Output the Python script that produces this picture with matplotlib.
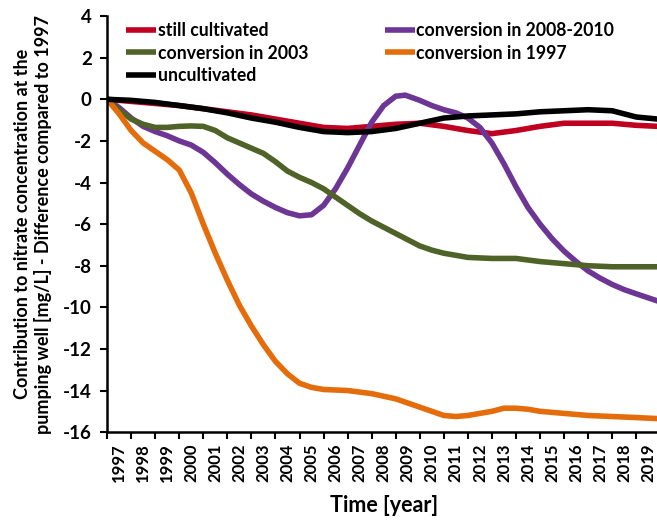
import matplotlib
matplotlib.use("Agg")
import matplotlib.pyplot as plt
import numpy as np

plt.rcParams['font.family'] = ['Lato', 'DejaVu Sans']
plt.rcParams['font.weight'] = 'bold'
plt.rcParams['axes.unicode_minus'] = False

# decimal years
x_main = [1997, 1998, 1999, 2000, 2001, 2002, 2003, 2004, 2005, 2006, 2007, 2008,
          2009, 2010, 2011, 2012, 2013, 2014, 2015, 2016, 2017, 2018, 2019, 2019.9]
still_cultivated = [0, -0.1, -0.2, -0.3, -0.45, -0.6, -0.75, -0.95, -1.15, -1.35, -1.4, -1.3,
                    -1.2, -1.15, -1.3, -1.5, -1.65, -1.5, -1.3, -1.15, -1.15, -1.15, -1.25, -1.3]
uncultivated = [0, -0.05, -0.15, -0.3, -0.45, -0.65, -0.9, -1.1, -1.35, -1.55, -1.6, -1.55,
                -1.4, -1.15, -0.9, -0.8, -0.75, -0.7, -0.6, -0.55, -0.5, -0.55, -0.85, -0.95]

x_2003 = [1997, 1997.5, 1998, 1998.5, 1999, 1999.5, 2000, 2000.5, 2001, 2001.5, 2002, 2002.5,
          2003, 2003.5, 2004, 2004.5, 2005, 2005.5, 2006, 2006.5, 2007, 2007.5, 2008, 2008.5,
          2009, 2009.5, 2010, 2010.5, 2011, 2011.5, 2012, 2013, 2014, 2015, 2016, 2017, 2018,
          2019, 2019.9]
conv_2003 = [0, -0.5, -0.95, -1.2, -1.35, -1.35, -1.3, -1.28, -1.3, -1.5, -1.85, -2.1,
             -2.35, -2.6, -3.0, -3.45, -3.75, -4.0, -4.3, -4.7, -5.1, -5.5, -5.85, -6.15,
             -6.45, -6.75, -7.05, -7.25, -7.4, -7.5, -7.6, -7.65, -7.65, -7.8, -7.9, -8.0, -8.05,
             -8.05, -8.05]

x_2008 = [1997, 1997.5, 1998, 1998.5, 1999, 1999.5, 2000, 2000.5, 2001, 2001.5, 2002, 2002.5,
          2003, 2003.5, 2004, 2004.5, 2005, 2005.5, 2006, 2006.5, 2007, 2007.5, 2008, 2008.5,
          2009, 2009.4, 2010, 2010.5, 2011, 2011.5, 2012, 2012.5, 2013, 2013.5, 2014, 2014.5,
          2015, 2015.5, 2016, 2016.5, 2017, 2017.5, 2018, 2018.5, 2019, 2019.9]
conv_2008 = [0, -0.4, -0.9, -1.3, -1.55, -1.75, -2.0, -2.2, -2.55, -3.05, -3.6, -4.1,
             -4.55, -4.9, -5.2, -5.45, -5.6, -5.55, -5.1, -4.3, -3.3, -2.2, -1.1, -0.3,
             0.15, 0.2, -0.05, -0.3, -0.5, -0.65, -0.9, -1.35, -2.1, -3.1, -4.2, -5.2,
             -6.0, -6.7, -7.3, -7.8, -8.25, -8.6, -8.9, -9.15, -9.35, -9.7]

x_1997 = [1997, 1997.5, 1998, 1998.5, 1999, 1999.5, 2000, 2000.5, 2001, 2001.5, 2002, 2002.5,
          2003, 2003.5, 2004, 2004.5, 2005, 2005.5, 2006, 2007, 2008, 2009, 2010, 2010.5,
          2011, 2011.5, 2012, 2013, 2013.5, 2014, 2014.5, 2015, 2016, 2017, 2018, 2019, 2019.9]
conv_1997 = [0, -0.7, -1.5, -2.1, -2.5, -2.9, -3.4, -4.5, -6.0, -7.4, -8.7, -9.9,
             -10.9, -11.8, -12.6, -13.2, -13.65, -13.85, -13.95, -14.0, -14.15, -14.4, -14.8, -15.0,
             -15.2, -15.25, -15.2, -15.0, -14.85, -14.85, -14.9, -15.0, -15.1, -15.2, -15.25, -15.3, -15.35]

year_labels = [str(y) for y in range(1997, 2020)]

fig = plt.figure(figsize=(6.57, 5.2), dpi=100)
ax = fig.add_axes([0.163, 0.169, 0.842, 0.800])

lw = 4.0
l_red, = ax.plot(x_main, still_cultivated, color='#C00020', lw=lw, solid_capstyle='butt')
l_pur, = ax.plot(x_2008, conv_2008, color='#6E3694', lw=lw, solid_capstyle='butt')
l_grn, = ax.plot(x_2003, conv_2003, color='#4F6228', lw=lw, solid_capstyle='butt')
l_orn, = ax.plot(x_1997, conv_1997, color='#E46C0A', lw=lw, solid_capstyle='butt')
l_blk, = ax.plot(x_main, uncultivated, color='black', lw=lw, solid_capstyle='butt')

ax.set_xlim(1997, 2020)
ax.set_ylim(-16, 4)
ax.set_yticks(np.arange(-16, 5, 2))
ax.tick_params(axis='y', labelsize=13.5, width=1.5, length=5, direction='out', pad=6)

# year labels sit between tick marks, like a category axis
ax.set_xticks(np.arange(1997, 2020) + 0.5)
ax.set_xticklabels(year_labels, rotation=90, fontsize=12)
ax.set_xticks(np.arange(1997, 2021), minor=True)
ax.tick_params(axis='x', which='major', length=0, pad=8)
ax.tick_params(axis='x', which='minor', length=5, width=1.5, direction='out')

for s in ['top', 'right']:
    ax.spines[s].set_visible(False)
for s in ['left', 'bottom']:
    ax.spines[s].set_linewidth(1.8)

ax.set_xlabel('Time [year]', fontsize=15.5, fontweight='bold', labelpad=9)
ax.set_ylabel('Contribution to nitrate concentration at the\n'
              'pumping well [mg/L] - Difference compared to 1997',
              fontsize=13, fontweight='bold', labelpad=8)

ax.legend([l_red, l_grn, l_blk, l_pur, l_orn],
          ['still cultivated', 'conversion in 2003', 'uncultivated',
           'conversion in 2008-2010', 'conversion in 1997'],
          ncol=2, loc='upper left', bbox_to_anchor=(0.035, 0.985), frameon=False,
          fontsize=12.7, handlelength=1.7, handletextpad=0.1, columnspacing=4.3,
          borderpad=0, borderaxespad=0, labelspacing=0.3)

fig.savefig('out.png', dpi=100)
